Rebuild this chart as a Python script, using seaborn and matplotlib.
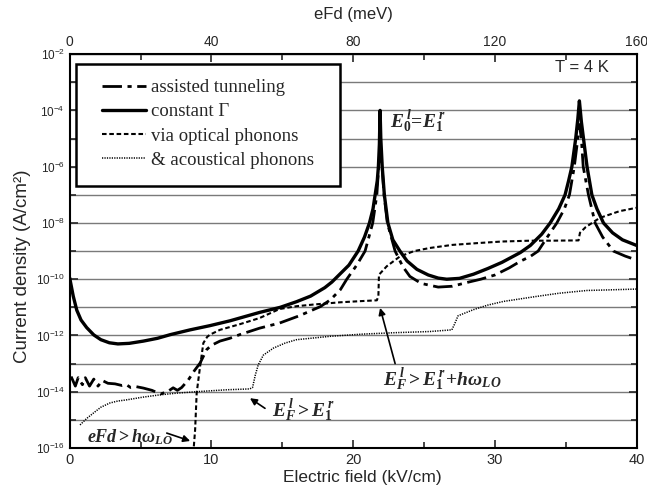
import matplotlib
matplotlib.use("Agg")
import matplotlib.pyplot as plt
import numpy as np
import pandas as pd
import seaborn as sns
from matplotlib.patches import Rectangle
from matplotlib.ticker import FixedLocator, NullFormatter, MultipleLocator

# values (x in kV/cm, y as log10 of A/cm^2)
const_x = [0, 0.25, 0.5, 0.8, 1.2, 1.7, 2.2, 2.8, 3.4, 4.2, 5.2, 6.2, 7.1, 8.5, 9.9,
           11.3, 13.4, 14.85, 16, 17, 18, 18.5, 19, 19.7, 20.35, 20.8, 21.15, 21.4,
           21.55, 21.7, 21.78, 21.85, 21.9, 21.95, 22.05, 22.2, 22.45, 22.8, 23.3,
           23.8, 24.5, 25.3, 26.0, 26.6, 27.5, 28.5, 29.5, 30.5, 31.8, 32.5, 33.3,
           33.9, 34.5, 34.95, 35.2, 35.43, 35.7, 35.85, 35.96, 36.1, 36.25, 36.5,
           36.84, 37.2, 37.66, 38.3, 39, 40]
const_log = [-9.95, -10.6, -11.1, -11.45, -11.72, -11.98, -12.15, -12.26, -12.3,
             -12.28, -12.2, -12.1, -11.97, -11.8, -11.65, -11.48, -11.18, -11.0,
             -10.8, -10.6, -10.3, -10.1, -9.85, -9.5, -9.0, -8.5, -8.0, -7.5, -7.0,
             -6.5, -6.0, -5.2, -4.0, -5.0, -6.0, -7.0, -8.0, -8.6, -9.0, -9.35,
             -9.65, -9.85, -9.96, -10.0, -9.97, -9.82, -9.62, -9.4, -9.05, -8.8,
             -8.4, -8.0, -7.5, -7.0, -6.5, -6.0, -5.0, -4.3, -3.66, -4.4, -5.0,
             -6.0, -7.0, -7.5, -8.0, -8.35, -8.6, -8.8]

assist_x = [0.1, 0.4, 0.6, 0.9, 1.1, 1.4, 1.7, 2.0, 2.3, 2.7, 3.2, 3.7, 4.0, 4.3,
            4.7, 5.2, 5.8, 6.4, 6.9, 7.3, 7.6, 7.9, 8.37, 8.8, 9.2, 9.67, 10.0,
            10.6, 11.3, 12.0, 13.4, 14.8, 16.2, 17.7, 18.4, 19.1, 19.55, 20.25,
            20.84, 21.38, 21.67, 21.8, 21.9, 22.04, 22.18, 22.41, 22.96, 23.5,
            24.0, 24.8, 26.0, 27.0, 28.0, 29.0, 30.0, 31.0, 31.8, 32.5, 33.05,
            33.7, 34.37, 34.9, 35.26, 35.6, 35.85, 35.96, 36.1, 36.23, 36.6,
            37.07, 37.6, 38.36, 39.2, 40]
assist_log = [-13.46, -13.8, -13.5, -13.75, -13.5, -13.8, -13.55, -13.8, -13.6,
              -13.7, -13.72, -13.78, -13.75, -13.85, -13.82, -13.87, -13.95,
              -14.08, -14.0, -13.86, -13.95, -13.85, -13.58, -13.25, -12.98,
              -12.5, -12.35, -12.2, -12.1, -11.97, -11.74, -11.56, -11.3, -10.97,
              -10.73, -10.37, -10.0, -9.5, -9.0, -8.0, -7.0, -6.0, -5.3, -6.0,
              -7.0, -8.0, -9.0, -9.55, -9.9, -10.15, -10.28, -10.25, -10.12,
              -10.0, -9.85, -9.6, -9.36, -9.19, -9.0, -8.5, -8.0, -7.5, -7.0,
              -6.0, -5.0, -4.5, -5.0, -6.0, -7.0, -8.0, -8.5, -9.0, -9.18, -9.32]

optical_x = [8.72, 8.85, 8.96, 9.2, 9.43, 9.7, 9.9, 10.6, 12.0, 13.4, 14.8, 16.0,
             17.2, 19.1, 20.5, 21.67, 21.78, 21.82, 22.37, 23.3, 24.3, 25.4, 27.0,
             28.95, 30.5, 32.5, 34.0, 35.9, 36.0, 36.4, 37.0, 37.4, 38.8, 40]
optical_log = [-16.2, -15.35, -14.04, -13.1, -12.27, -12.05, -11.97, -11.8, -11.6,
               -11.38, -11.06, -10.96, -10.9, -10.82, -10.78, -10.75, -10.6, -9.84,
               -9.54, -9.19, -9.0, -8.89, -8.78, -8.71, -8.66, -8.63, -8.63, -8.62,
               -8.35, -8.15, -7.95, -7.82, -7.58, -7.46]

acoustic_x = [0.73, 1.2, 1.67, 2.2, 2.84, 3.4, 4.0, 5.2, 6.37, 7.55, 9.2, 11.1,
              12.7, 12.9, 13.1, 13.3, 13.66, 14.37, 15.2, 16.0, 18.37, 20.7, 23.0,
              25.4, 26.96, 27.15, 27.4, 28.5, 29.5, 30.6, 32.96, 34.5, 36.5, 38,
              40]
acoustic_log = [-15.18, -14.95, -14.76, -14.55, -14.4, -14.33, -14.29, -14.19,
                -14.11, -14.05, -13.99, -13.93, -13.9, -13.85, -13.4, -13.05,
                -12.7, -12.45, -12.27, -12.15, -12.03, -11.95, -11.9, -11.86,
                -11.8, -11.6, -11.3, -11.08, -10.92, -10.79, -10.61, -10.5, -10.4,
                -10.38, -10.35]

series_names = ["assisted tunneling", "constant Γ", "via optical phonons",
                "& acoustical phonons"]
top_ticks = [0, 40, 80, 120, 160]

sns.set_style("ticks")
plt.rcParams["font.family"] = ["Liberation Sans", "DejaVu Sans"]
plt.rcParams["mathtext.fontset"] = "custom"
plt.rcParams["mathtext.it"] = "Liberation Serif:italic:bold"
plt.rcParams["mathtext.rm"] = "Liberation Serif:bold"

fig = plt.figure(figsize=(6.47, 4.97), dpi=100)
ax = fig.add_axes([0.1077, 0.0986, 0.8763, 0.7924])

styles = [
    (assist_x, assist_log, (0, (7, 2, 1.5, 2)), 2.0),
    (const_x, const_log, "-", 2.4),
    (optical_x, optical_log, (0, (2.2, 1.3)), 1.5),
    (acoustic_x, acoustic_log, (0, (0.8, 0.8)), 1.1),
]
for name, (xs, ls_, style, lw) in zip(series_names, styles):
    df = pd.DataFrame({"field": xs, "J": np.power(10.0, ls_)})
    sns.lineplot(data=df, x="field", y="J", ax=ax, color="black", linestyle=style,
                 linewidth=lw, estimator=None, sort=False, label=name)

ax.set_yscale("log")
ax.set_xlim(0, 40)
ax.set_ylim(1e-16, 1e-2)

major_exp = list(range(-16, -1, 2))
minor_exp = list(range(-15, -2, 2))
ax.yaxis.set_major_locator(FixedLocator([10.0 ** k for k in major_exp]))
ax.yaxis.set_minor_locator(FixedLocator([10.0 ** k for k in minor_exp]))
ax.set_yticklabels([r"$\mathdefault{10^{%d}}$" % k for k in major_exp], fontsize=8.5)
ax.yaxis.set_minor_formatter(NullFormatter())
ax.xaxis.set_major_locator(MultipleLocator(10))
ax.xaxis.set_minor_locator(MultipleLocator(5))
ax.tick_params(axis="x", labelsize=10.5)
ax.tick_params(which="both", direction="in", right=True, top=False, width=1.2)
ax.tick_params(which="major", length=6)
ax.tick_params(which="minor", length=4)
ax.grid(which="both", axis="y", color="#7a7a7a", linewidth=1)
ax.set_axisbelow(True)
for s in ax.spines.values():
    s.set_linewidth(1.5)
    s.set_color("black")

ax.set_xlabel("Electric field (kV/cm)", fontsize=12.5)
ax.xaxis.set_label_coords(0.5155, -0.055)
ax.set_ylabel("Current density (A/cm²)", fontsize=13.5)
ax.yaxis.set_label_coords(-0.068, 0.462)

top = ax.secondary_xaxis("top", functions=(lambda v: v * 4, lambda v: v / 4))
top.xaxis.set_major_locator(FixedLocator(top_ticks))
top.xaxis.set_minor_locator(FixedLocator([20, 60, 100, 140]))
top.tick_params(which="both", direction="in", width=1.2, labelsize=10)
top.tick_params(which="major", length=6)
top.tick_params(which="minor", length=4)
top.set_xlabel("eFd (meV)", fontsize=12, labelpad=12)

# legend: white box drawn separately, entries placed inside it
ax.add_patch(Rectangle((0.011, 0.665), 0.466, 0.31, transform=ax.transAxes,
                       facecolor="white", edgecolor="black", linewidth=1.8,
                       zorder=3))
leg = ax.legend(loc="upper left", bbox_to_anchor=(0.0564, 0.937),
                prop={"family": "Liberation Serif", "size": 13.5},
                frameon=False, handlelength=2.35, handletextpad=0.3,
                labelspacing=0.38, borderpad=0, borderaxespad=0)
leg.set_zorder(4)

ax.text(0.856, 0.985, "T = 4 K", transform=ax.transAxes, ha="left", va="top",
        fontsize=12)
ax.text(22.6, 10 ** -4.42, r"$E_0^{\,l}\!=\!E_1^{\,r}$", fontsize=14,
        ha="left", va="center")
ax.text(14.25, 10 ** -14.68, r"$E_F^{\,l}>E_1^{\,r}$", fontsize=14,
        ha="left", va="center")
ax.text(22.1, 10 ** -13.58, r"$E_F^{\,l}>E_1^{\,r}\!+\!h\omega_{LO}$", fontsize=14,
        ha="left", va="center")
ax.text(1.2, 10 ** -15.6, r"$eFd>h\omega_{LO}$", fontsize=13,
        ha="left", va="center")

arrow = dict(arrowstyle="-|>", color="black", lw=1.2, mutation_scale=10,
             shrinkA=0, shrinkB=0)
ax.annotate("", xy=(12.72, 10 ** -14.23), xytext=(13.78, 10 ** -14.59),
            arrowprops=arrow)
ax.annotate("", xy=(21.9, 10 ** -11.02), xytext=(22.96, 10 ** -13.0),
            arrowprops=arrow)
ax.annotate("", xy=(8.5, 10 ** -15.75), xytext=(6.85, 10 ** -15.47),
            arrowprops=arrow)

fig.savefig("out.png", dpi=100)
